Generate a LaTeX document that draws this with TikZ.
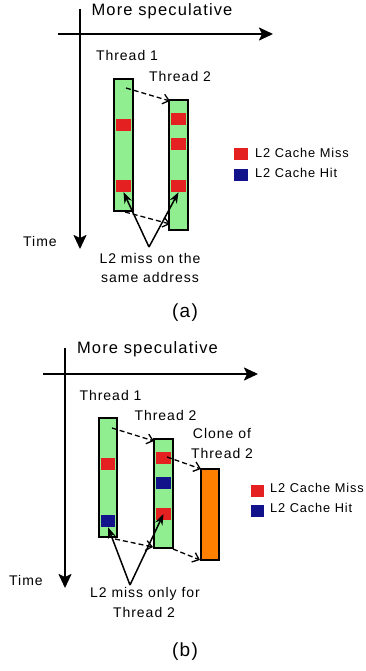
\documentclass[tikz,border=0pt]{standalone}
\usepackage{fontspec}
\setmainfont{Liberation Sans}[LetterSpace=7]
\usetikzlibrary{arrows.meta}
\definecolor{barg}{RGB}{144,238,144}
\definecolor{missr}{RGB}{228,32,32}
\definecolor{hitb}{RGB}{18,18,138}
\definecolor{clor}{RGB}{255,128,0}
\begin{document}
\begin{tikzpicture}[x=1pt,y=-1pt,
  axis/.style={line width=2.2pt,-{Stealth[length=14pt,width=13pt,inset=3pt]}},
  bar/.style={draw=black,line width=1.5pt,fill=barg,inner sep=0pt,minimum width=19pt},
  clonebar/.style={bar,fill=clor},
  blk/.style={inner sep=0pt,minimum width=15pt,minimum height=12pt},
  missblk/.style={blk,fill=missr},
  hitblk/.style={blk,fill=hitb},
  legsq/.style={inner sep=0pt,minimum width=14pt,minimum height=12pt},
  lbl/.style={inner sep=0pt,font=\fontsize{14}{16}\selectfont},
  leglbl/.style={inner sep=0pt,anchor=west,font=\fontsize{12.8}{15}\selectfont},
  biglbl/.style={inner sep=0pt,font=\fontsize{16.5}{18}\selectfont},
  caplbl/.style={inner sep=0pt,font=\fontsize{19}{21}\selectfont},
  dasharr/.style={line width=1.3pt,dash pattern=on 5pt off 3pt,-{Straight Barb[length=6pt,width=10pt,line width=1.3pt]}},
  ptr/.style={line width=1.5pt,-{Stealth[length=11pt,width=8pt]}}
]
\useasboundingbox (0,0) rectangle (366,671);

% ---------------- panel (a) ----------------
\coordinate (va0) at (80,9);
\coordinate (va1) at (80,249);
\coordinate (ha0) at (58,34);
\coordinate (ha1) at (273,34);
\draw[axis] (va0) -- (va1);
\draw[axis] (ha0) -- (ha1);
\node[biglbl] (specA) at (162,11) {More speculative};
\node[lbl] (timeA) at (40,241) {Time};
\node[lbl] (th1A) at (127,55) {Thread 1};
\node[lbl] (th2A) at (180,76) {Thread 2};

\node[bar,minimum height=132pt] (t1a) at (123.5,145) {};
\node[bar,minimum height=130pt] (t2a) at (178.5,165) {};
\node[missblk] (m1a) at (123.5,125) {};
\node[missblk] (m2a) at (123.5,186) {};
\node[missblk] (m3a) at (178.5,119) {};
\node[missblk] (m4a) at (178.5,144.5) {};
\node[missblk] (m5a) at (178.5,186) {};

\coordinate (d1s) at (126,88);
\coordinate (d1e) at (170,101);
\coordinate (d2s) at (125,212);
\coordinate (d2e) at (170,224);
\draw[dasharr] (d1s) -- (d1e);
\draw[dasharr] (d2s) -- (d2e);

\node[lbl] (noteA1) at (150,258) {L2 miss on the};
\node[lbl] (noteA2) at (150,277) {same address};
\coordinate (pa) at (149,247);
\draw[ptr] (pa) -- (m2a.south);
\draw[ptr] (pa) -- (m5a.south);

\node[legsq,fill=missr] (lmA) at (240.5,154) {};
\node[legsq,fill=hitb] (lhA) at (240.5,175) {};
\node[leglbl] (lmtA) at (255,153) {L2 Cache Miss};
\node[leglbl] (lhtA) at (255,173) {L2 Cache Hit};
\node[caplbl] (capA) at (185,313) {(a)};

% ---------------- panel (b) ----------------
\coordinate (vb0) at (65,348);
\coordinate (vb1) at (65,588);
\coordinate (hb0) at (43,374);
\coordinate (hb1) at (258,374);
\draw[axis] (vb0) -- (vb1);
\draw[axis] (hb0) -- (hb1);
\node[biglbl] (specB) at (147.5,349) {More speculative};
\node[lbl] (timeB) at (26,580) {Time};
\node[lbl] (th1B) at (110.5,395) {Thread 1};
\node[lbl] (th2B) at (165.5,415) {Thread 2};
\node[lbl] (cl1B) at (222,433) {Clone of};
\node[lbl] (cl2B) at (222,453) {Thread 2};

\node[bar,minimum width=18pt,minimum height=119pt] (t1b) at (108,477.5) {};
\node[bar,minimum height=109pt] (t2b) at (163.5,493.5) {};
\node[clonebar,minimum width=18pt,minimum height=91pt] (cb) at (210,514.5) {};
\node[missblk,minimum width=14pt] (m1b) at (108,463.5) {};
\node[hitblk,minimum width=14pt] (h1b) at (108,521) {};
\node[missblk] (m2b) at (163.5,458) {};
\node[hitblk] (h2b) at (163.5,483) {};
\node[missblk] (m3b) at (163.5,514) {};

\coordinate (e1s) at (112,428);
\coordinate (e1e) at (154,441);
\coordinate (e2s) at (167,457);
\coordinate (e2e) at (201,469);
\coordinate (e3s) at (115,539);
\coordinate (e3e) at (153,547);
\coordinate (e4s) at (173,549);
\coordinate (e4e) at (200,560);
\draw[dasharr] (e1s) -- (e1e);
\draw[dasharr] (e2s) -- (e2e);
\draw[dasharr] (e3s) -- (e3e);
\draw[dasharr] (e4s) -- (e4e);

\node[lbl] (noteB1) at (145,594) {L2 miss only for};
\node[lbl] (noteB2) at (144,612) {Thread 2};
\coordinate (pb) at (130,585);
\draw[ptr] (pb) -- (h1b.south);
\draw[ptr] (pb) -- (m3b.center);

\node[legsq,minimum width=13pt,fill=missr] (lmB) at (257.5,490.5) {};
\node[legsq,minimum width=13pt,fill=hitb] (lhB) at (257.5,511) {};
\node[leglbl] (lmtB) at (270,488) {L2 Cache Miss};
\node[leglbl] (lhtB) at (270,508) {L2 Cache Hit};
\node[caplbl] (capB) at (185,652) {(b)};
\end{tikzpicture}
\end{document}
